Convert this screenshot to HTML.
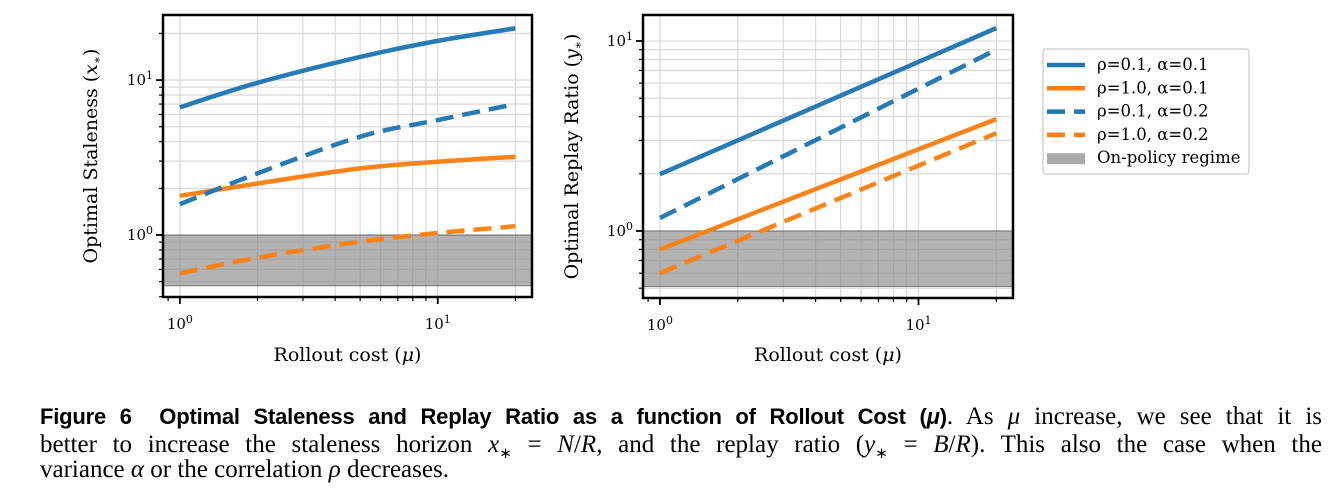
<!DOCTYPE html>
<html><head><meta charset="utf-8"><style>
body{margin:0;width:1336px;height:501px;background:#fff;overflow:hidden;position:relative}
svg text{font-family:"DejaVu Serif","Liberation Serif",serif}
.cap{position:absolute;left:40px;width:1282px;font-family:"Liberation Serif",serif;font-size:25px;text-align:justify;text-align-last:justify;white-space:nowrap;line-height:24px}
</style></head><body>
<svg id="fig" width="1336" height="395" style="position:absolute;left:0;top:0" xmlns="http://www.w3.org/2000/svg"></svg>
<div class="cap" style="top:405px"><b style="font-family:'Liberation Sans',sans-serif;font-size:22px;letter-spacing:-0.2px">Figure 6&nbsp; Optimal Staleness and Replay Ratio as a function of Rollout Cost (<i>μ</i>)</b>. As <i>μ</i> increase, we see that it is</div>
<div class="cap" style="top:433px">better to increase the staleness horizon <i>x</i><sub style="font-size:15px">∗</sub> = <i>N</i>/<i>R</i>, and the replay ratio (<i>y</i><sub style="font-size:15px">∗</sub> = <i>B</i>/<i>R</i>). This also the case when the</div>
<div class="cap" style="top:458px;text-align-last:left">variance <i>α</i> or the correlation <i>ρ</i> decreases.</div>
<script>
const xsLeft=[1,2,5,10,20];
const blueSolidL=[6.67,9.6,14.1,17.9,21.6];
const blueDashL=[1.58,2.5,4.31,5.52,7.0];
const orangeSolidL=[1.79,2.15,2.69,2.97,3.2];
const orangeDashL=[0.566,0.714,0.905,1.03,1.14];
const xsRight=[1,20];
const blueSolidR=[1.99,11.7];
const blueDashR=[1.17,9.0];
const orangeSolidR=[0.80,3.88];
const orangeDashR=[0.60,3.27];
const regimeL=[0.47,1.0];
const regimeR=[0.51,1.0];
const xMinor=[2,3,4,5,6,7,8,9,20];
const yMinorL=[0.4,0.5,0.6,0.7,0.8,0.9,2,3,4,5,6,7,8,9,20];
const yMinorR=[0.5,0.6,0.7,0.8,0.9,2,3,4,5,6,7,8,9];
const legendLabels=["ρ=0.1, α=0.1","ρ=1.0, α=0.1","ρ=0.1, α=0.2","ρ=1.0, α=0.2","On-policy regime"];
const NS="http://www.w3.org/2000/svg";
const svg=document.getElementById('fig');
const BLUE="#1f77b4",ORANGE="#ff7f0e";
function el(t,a,p){const e=document.createElementNS(NS,t);for(const k in a)e.setAttribute(k,a[k]);(p||svg).appendChild(e);return e;}
function smooth(pts){
  if(pts.length<3)return 'M'+pts.map(p=>p.join(',')).join(' L');
  let d='M'+pts[0][0]+','+pts[0][1];
  for(let i=0;i<pts.length-1;i++){
    const p0=pts[Math.max(0,i-1)],p1=pts[i],p2=pts[i+1],p3=pts[Math.min(pts.length-1,i+2)];
    const c1=[p1[0]+(p2[0]-p0[0])/6,p1[1]+(p2[1]-p0[1])/6];
    const c2=[p2[0]-(p3[0]-p1[0])/6,p2[1]-(p3[1]-p1[1])/6];
    d+=` C${c1[0]},${c1[1]} ${c2[0]},${c2[1]} ${p2[0]},${p2[1]}`;
  }
  return d;
}
function panel(o){
  const g=el('g',{});
  
  
  const L=Math.log10;
  const X=v=>o.x0+(L(v)-L(o.xmin))/(L(o.xmax)-L(o.xmin))*(o.x1-o.x0);
  const Y=v=>o.y1-(L(v)-L(o.ymin))/(L(o.ymax)-L(o.ymin))*(o.y1-o.y0);
  [1,10].concat(xMinor).forEach(v=>{const x=X(v);if(x>o.x0&&x<o.x1)el('line',{x1:x,x2:x,y1:o.y0,y2:o.y1,stroke:'#dcdcdc','stroke-width':1.3},g);});
  [1,10].concat(o.yMinor).forEach(v=>{const y=Y(v);if(y>o.y0&&y<o.y1)el('line',{x1:o.x0,x2:o.x1,y1:y,y2:y,stroke:'#dcdcdc','stroke-width':1.3},g);});
  const r=el('rect',{x:o.x0,y:Y(o.regime[1]),width:o.x1-o.x0,height:Y(o.regime[0])-Y(o.regime[1]),fill:'rgba(128,128,128,0.6)',stroke:'rgba(80,80,80,0.7)','stroke-width':1},g);
  
  
  o.series.forEach(s=>{
    const p=el('path',{d:smooth(s.xs.map((v,i)=>[X(v),Y(s.ys[i])])),fill:'none',stroke:s.c,'stroke-width':4.5,'stroke-dasharray':s.d?'18 9':'none','stroke-opacity':0.97},g);
    
    
  });
  el('rect',{x:o.x0,y:o.y0,width:o.x1-o.x0,height:o.y1-o.y0,fill:'none',stroke:'#000','stroke-width':2.5},g);
  [1,10].forEach(v=>{const x=X(v);el('line',{x1:x,x2:x,y1:o.y1,y2:o.y1+7,stroke:'#000','stroke-width':1.8},g);
    const t=el('text',{x:x,y:o.y1+32,'font-size':15,'text-anchor':'middle'},g);t.innerHTML='10<tspan dy="-6" font-size="11">'+(v==1?0:1)+'</tspan>';});
  [0.9,0.8].concat(xMinor).forEach(v=>{const x=X(v);if(x>=o.x0&&x<=o.x1)el('line',{x1:x,x2:x,y1:o.y1,y2:o.y1+4,stroke:'#000','stroke-width':1.2},g);});
  [1,10].forEach(v=>{const y=Y(v);if(y<o.y0)return;el('line',{x1:o.x0,x2:o.x0-7,y1:y,y2:y,stroke:'#000','stroke-width':1.8},g);
    const t=el('text',{x:o.x0-10,y:y+5,'font-size':15,'text-anchor':'end'},g);t.innerHTML='10<tspan dy="-6" font-size="11">'+(v==1?0:1)+'</tspan>';});
  o.yMinor.forEach(v=>{const y=Y(v);if(y>=o.y0&&y<=o.y1)el('line',{x1:o.x0,x2:o.x0-4,y1:y,y2:y,stroke:'#000','stroke-width':1.2},g);});
  const xl=el('text',{x:(o.x0+o.x1)/2,y:361,'font-size':19,'text-anchor':'middle'},g);xl.innerHTML='Rollout cost (<tspan font-style="italic">μ</tspan>)';
  
  const yl=el('text',{x:0,y:0,'font-size':19,'text-anchor':'middle',transform:`translate(${o.ylx},${(o.y0+o.y1)/2}) rotate(-90)`},g);
  yl.innerHTML=o.ylab+' (<tspan font-style="italic">'+o.v+'</tspan><tspan font-size="12" dy="4">∗</tspan><tspan dy="-4">)</tspan>';
  
}
panel({name:'staleness-chart',x0:163,x1:532,y0:15,y1:297,xmin:0.86,xmax:23.2,ymin:0.398,ymax:26.3,yMinor:yMinorL,regime:regimeL,ylx:97,ylab:'Optimal Staleness',v:'x',
 series:[{xs:xsLeft,ys:blueSolidL,c:BLUE,n:'line-rho01-a01'},{xs:xsLeft,ys:orangeSolidL,c:ORANGE,n:'line-rho10-a01'},{xs:xsLeft,ys:blueDashL,c:BLUE,d:1,n:'line-rho01-a02'},{xs:xsLeft,ys:orangeDashL,c:ORANGE,d:1,n:'line-rho10-a02'}]});
panel({name:'replay-ratio-chart',x0:643,x1:1013,y0:15,y1:298,xmin:0.86,xmax:23.2,ymin:0.444,ymax:13.7,yMinor:yMinorR,regime:regimeR,ylx:578,ylab:'Optimal Replay Ratio',v:'y',
 series:[{xs:xsRight,ys:blueSolidR,c:BLUE,n:'line-rho01-a01'},{xs:xsRight,ys:orangeSolidR,c:ORANGE,n:'line-rho10-a01'},{xs:xsRight,ys:blueDashR,c:BLUE,d:1,n:'line-rho01-a02'},{xs:xsRight,ys:orangeDashR,c:ORANGE,d:1,n:'line-rho10-a02'}]});
const lg=el('g',{});


el('rect',{x:1043,y:49,width:206,height:125,rx:3,fill:'#fff',stroke:'#ccc','stroke-width':1.3},lg);
const sty=[[BLUE,0],[ORANGE,0],[BLUE,1],[ORANGE,1],['#aaa',2]];
legendLabels.forEach((t,i)=>{
  const y=65+i*23.3;
  const e=el('g',{},lg);
  
  
  if(sty[i][1]==2) el('rect',{x:1047,y:y-5,width:38,height:11,fill:'#aaa'},e);
  else el('line',{x1:1047,x2:1085,y1:y,y2:y,stroke:sty[i][0],'stroke-width':4.5,'stroke-dasharray':sty[i][1]?'18 9':'none'},e);
  const tx=el('text',{x:1097,y:y+5,'font-size':16.5},e);tx.textContent=t;
});
</script>
</body></html>
